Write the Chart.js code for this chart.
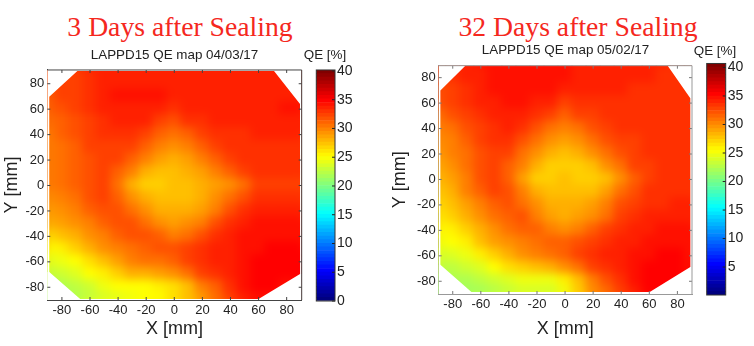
<!DOCTYPE html>
<html><head><meta charset="utf-8">
<script src="https://cdn.jsdelivr.net/npm/chart.js@4"></script>
<style>
html,body{margin:0;padding:0;background:#fff;width:754px;height:346px;overflow:hidden}
canvas{position:absolute;display:block}
.head{position:absolute;font:27.7px "Liberation Serif",serif;color:#f5281e;white-space:nowrap;transform:translate(-50%,-50%)}
</style></head><body>
<div class="head" style="left:180px;top:27px">3 Days after Sealing</div>
<div class="head" style="left:578px;top:27px">32 Days after Sealing</div>
<canvas id="h1" width="349" height="346" style="left:0;top:0"></canvas>
<canvas id="h2" width="377" height="346" style="left:377px;top:0"></canvas>
<canvas id="c1" width="60" height="346" style="left:295px;top:0"></canvas>
<canvas id="c2" width="60" height="346" style="left:685px;top:0"></canvas>
<script>
const xCells=[-90,-80,-70,-60,-50,-40,-30,-20,-10,0,10,20,30,40,50,60,70,80,90];
const yCells=[90,80,70,60,50,40,30,20,10,0,-10,-20,-30,-40,-50,-60,-70,-80,-90];
const axisTicks=[-80,-60,-40,-20,0,20,40,60,80];
const titleLeft='LAPPD15 QE map 04/03/17';
const titleRight='LAPPD15 QE map 05/02/17';
const colorbarTicksLeft=[0,5,10,15,20,25,30,35,40];
const colorbarTicksRight=[5,10,15,20,25,30,35,40];
const qeLeft=[
[32,32.5,33,33.6,34,34.1,34.1,34.1,34.1,34.1,34.1,34.1,34.1,34.1,34.1,34.1,34.1,34.1,34.1],
[32,32.5,33,33.6,34,34.2,34.3,34.3,34.3,34.3,34.2,34.1,34.1,34.1,34.1,34.1,34.2,34.2,34.2],
[31.8,32.5,33,33.6,34.1,34.4,34.5,34.5,34.5,34.3,34.1,34,34,34,34,34.1,34.2,34.3,34.3],
[31.5,32,32.6,33.2,33.8,34.1,34.2,34.1,34,33.6,33.9,34,34,34,34,34.1,34.2,34.4,34.5],
[31,31.6,32.3,33,33.6,33.9,33.9,33.8,33.1,32.3,33.2,33.7,33.8,33.8,33.8,33.9,34,34.2,34.2],
[30.6,31.3,32,32.8,33.3,33.5,33.4,32.7,31.7,30.8,31.8,32.8,33.4,33.6,33.7,33.8,33.8,33.8,33.8],
[30.5,31.1,31.8,32.5,33.1,33.1,32.5,31.5,30.2,29.6,30.4,31.4,32.6,33.3,33.5,33.5,33.5,33.5,33.4],
[30.4,31,31.6,32.3,32.9,32.5,31.5,30,29,28.5,29.2,30.2,31.3,32.5,33.2,33.4,33.4,33.4,33.3],
[30.4,31,31.6,32.2,32.6,31.6,30,28.5,27.8,27.9,28.3,28.9,30,31.3,32.5,33.2,33.4,33.4,33.3],
[30.5,31,31.6,32.1,32.6,30.8,28.5,27.2,27,27.9,28.1,28.3,28.8,29.8,31.2,32.6,33,33,33],
[29.9,30.5,31.2,31.9,32.5,31.5,29.6,28.2,27.8,27.9,28.1,28.5,29.5,31,32.4,33.2,33.4,33.4,33.4],
[29.2,29.8,30.5,31.3,32.1,32.2,31,29.5,28.6,28.3,28.5,29.3,30.6,32.2,33.4,33.9,34,34,34],
[28.2,29,29.8,30.6,31.5,32,32.2,31,29.9,29.2,29.5,30.6,32.2,33.4,34,34.4,34.4,34.4,34.4],
[26.8,27.7,28.6,29.6,30.6,31.4,32,32.2,31.3,30.3,31,32.3,33.3,34,34.4,34.7,34.9,34.9,34.8],
[25.3,26,27,28.2,29.4,30.3,31,31.7,32.2,32.3,33,33.5,33.9,34.2,34.5,34.9,35,35,35],
[24,24.5,25.5,26.6,27.8,29,30,30.8,31.2,31.8,32.8,33.5,33.9,34.3,34.7,35,35.1,35.1,35],
[23,23.4,24.2,25.2,26.2,27.3,28.2,28.6,28.8,29.8,31.2,32.5,33.3,33.9,34.6,35.1,35.1,35.1,35],
[22,22.4,23,23.6,24.5,25.2,25.4,25.5,25.7,26.5,28,30,31.6,33.2,34.6,35.1,35,34.9,34.9],
[21.8,22,22,22.5,23.5,24.2,24.8,25,25.3,26.5,27.5,29,30.8,32.6,34,34.8,34.9,34.9,34.9]];
const qeRight=[
[32.8,33.3,33.8,34.3,34.6,34.6,34.6,34.6,34.5,34.4,34.3,34.2,34.1,34,33.9,33.8,33.7,33.7,33.7],
[32.6,33.2,33.8,34.3,34.6,34.7,34.7,34.6,34.5,34.4,34.3,34.2,34.1,34,33.9,33.8,33.7,33.7,33.7],
[32.4,33,33.6,34.2,34.5,34.6,34.6,34.5,34.4,34.2,34.1,34,33.9,33.8,33.7,33.7,33.6,33.6,33.6],
[32,32.7,33.3,33.9,34.3,34.4,34.4,34.2,33.8,33,33.6,33.7,33.7,33.7,33.6,33.6,33.5,33.5,33.5],
[31,31.9,32.7,33.4,33.9,34.1,34,33.4,32.5,31.5,32.5,33.1,33.4,33.5,33.5,33.5,33.5,33.5,33.5],
[30,31,32,32.9,33.5,33.8,33.2,32.3,31.2,30.2,31.2,32.2,32.9,33.2,33.3,33.4,33.4,33.4,33.4],
[29.5,30.6,31.6,32.6,33.2,33.2,32.3,31,29.8,29.1,29.8,31,32.1,32.8,33.1,33.3,33.3,33.3,33.3],
[29,30,31,32.2,33,32.5,31,29.6,28.4,27.8,28.5,29.6,31,32.2,32.8,33.2,33.3,33.3,33.3],
[28.5,29.6,30.8,32,33,31.8,30,28.3,27.4,27.4,27.3,27.8,29.4,31.2,32.5,33.1,33.3,33.3,33.3],
[28,29.3,30.6,32,33,31.4,29,27.1,27,27.7,27.4,27.2,28,29.8,31.5,32.8,33.2,33.3,33.3],
[27.3,28.6,30,31.4,32.6,32,30,28.3,27.7,27.8,27.8,28,29,30.8,32.3,33.2,33.4,33.5,33.5],
[26.5,27.9,29.3,30.6,31.8,32.3,31.2,29.4,28.4,28.2,28.3,28.8,30.1,31.9,33,33.5,33.7,33.8,33.8],
[25.8,27.1,28.4,29.6,30.8,31.6,32,30.5,29.3,28.7,28.9,29.8,31.2,32.7,33.5,33.9,34,34,34],
[25.2,26.1,27.4,28.7,29.8,30.8,31.6,31.7,30.6,29.7,30.2,31.4,32.7,33.5,34,34.3,34.4,34.4,34.4],
[24.4,25.1,26.2,27.5,28.8,29.8,30.6,31.2,31.6,31.3,32.2,33,33.6,34,34.3,34.7,34.9,34.9,34.8],
[23.3,23.9,24.8,25.9,27.3,28.6,29.5,30.2,30.9,31.6,32.6,33.3,33.8,34.2,34.6,34.9,35.1,35,34.9],
[22.5,22.9,23.5,24.3,25.4,26.3,27.2,27.8,28.4,29.6,31.2,32.5,33.3,34,34.6,35,35.1,35,34.9],
[21.8,22,22.4,23,23.7,24.3,24.6,24.8,24.8,25.8,28,30.2,32,33.5,34.5,35.1,35.1,35,35],
[21.4,21.5,21.6,21.8,22.4,23,23.4,23.6,23.7,24.8,27,29.4,31.2,33,34.3,35,35.1,35,35]];
const topEdgeXLeft=[-92,-89.05,-89,-69,71,89.5,89.55,92];
const topEdgeYLeft=[-92,-92,69.8,90,90,64,-92,-92];
const bottomEdgeXLeft=[-92,-89,-67,60,89.5,92];
const bottomEdgeYLeft=[-68,-68,-89.2,-89.2,-69.5,-69.5];
const topEdgeXRight=[-92,-88.85,-88.8,-68.6,71.4,89.2,89.25,92];
const topEdgeYRight=[-92,-92,69.8,92,92,63.8,-92,-92];
const bottomEdgeXRight=[-92,-88.8,-66.7,60.3,89.2,92];
const bottomEdgeYRight=[-67,-67,-88.5,-88.5,-68.8,-68.8];

const INK='#222';
const SANS='"Liberation Sans",Arial,sans-serif';
function jet(t){
  const c=v=>Math.round(255*Math.max(0,Math.min(1,v)));
  return `rgb(${c(Math.min(4*t-1.5,-4*t+4.5))},${c(Math.min(4*t-0.5,-4*t+3.5))},${c(Math.min(4*t+0.5,-4*t+2.5))})`;
}
const qeColor=v=>jet(Math.floor(v/40*64)/63.999);

function pts(xs,ys){return xs.map((x,i)=>({x,y:ys[i]}));}
function heatPoints(grid){
  const out=[];
  yCells.forEach((y,r)=>xCells.forEach((x,c)=>out.push({x,y,v:grid[r][c]})));
  return out;
}
const softenCells={id:'softenCells',afterDatasetDraw(chart,args){
  if(chart.data.datasets[args.index].heat!==true)return;
  const a=chart.chartArea,p=18,w=Math.round(a.right-a.left),h=Math.round(a.bottom-a.top);
  const t=document.createElement('canvas');t.width=w+2*p;t.height=h+2*p;
  const x=t.getContext('2d');
  x.drawImage(chart.canvas,a.left,a.top,a.right-a.left,a.bottom-a.top,0,0,w+2*p,h+2*p);
  x.drawImage(chart.canvas,a.left,a.top,a.right-a.left,a.bottom-a.top,p,p,w,h);
  const g=chart.ctx;g.save();g.beginPath();g.rect(a.left,a.top,a.right-a.left,a.bottom-a.top);g.clip();
  g.filter='blur(4px)';g.drawImage(t,a.left-p,a.top-p,w+2*p,h+2*p);g.restore();
}};
const inwardTicks={id:'inwardTicks',afterDraw(chart,args,o){
  const g=chart.ctx,a=chart.chartArea;g.save();g.strokeStyle=o.color;g.lineWidth=1;g.beginPath();
  if(chart.scales.x&&chart.scales.x.options.display!==false){
    chart.scales.x.ticks.forEach(t=>{const q=chart.scales.x.getPixelForValue(t.value);
      g.moveTo(q,a.top);g.lineTo(q,a.top+3);g.moveTo(q,a.bottom);g.lineTo(q,a.bottom-3);});
  }
  chart.scales.y.ticks.forEach(t=>{const q=chart.scales.y.getPixelForValue(t.value);
    if(o.both){g.moveTo(a.left,q);g.lineTo(a.left+3,q);}
    g.moveTo(a.right,q);g.lineTo(a.right-3,q);});
  g.stroke();
  if(o.frame){g.strokeStyle=o.frame;g.strokeRect(a.left,a.top,a.right-a.left,a.bottom-a.top);}
  if(o.box){g.strokeStyle=o.box;g.beginPath();g.moveTo(a.left,a.top);g.lineTo(a.right,a.top);g.lineTo(a.right,a.bottom);g.stroke();}
  g.restore();
}};
const spacer=(position,width)=>({position,display:true,min:0,max:1,ticks:{display:false},grid:{display:false},border:{display:false},afterFit:s=>{s.width=width;}});
function heatmap(id,grid,title,g){
  new Chart(document.getElementById(id),{
    type:'scatter',
    data:{datasets:[
      {type:'line',data:pts(g.topX,g.topY),fill:{target:{value:92}},backgroundColor:'#fff',borderWidth:0,pointRadius:0,order:1},
      {type:'line',data:pts(g.botX,g.botY),fill:{target:{value:-92}},backgroundColor:'#fff',borderWidth:0,pointRadius:0,order:1},
      {type:'scatter',heat:true,data:heatPoints(grid),pointStyle:'rect',pointRadius:11,pointBorderWidth:0,
       pointBackgroundColor:c=>qeColor(c.raw.v),order:2}
    ]},
    options:{responsive:false,animation:false,events:[],
      plugins:{legend:{display:false},tooltip:{enabled:false},
        title:{display:true,text:title,color:INK,font:{family:SANS,size:13.4,weight:'normal',lineHeight:1.2},padding:{top:g.titleTop,bottom:g.titleBottom}},
        inwardTicks:{color:g.tick,both:true,box:g.border}},
      scales:{
        x:{type:'linear',min:g.xMin,max:g.xMax,
          afterBuildTicks:s=>{s.ticks=axisTicks.map(value=>({value}));},
          afterFit:s=>{s.height=g.bottomH;},
          grid:{drawOnChartArea:false,drawTicks:false},border:{color:g.border,width:1},
          ticks:{padding:3,color:INK,maxRotation:0,autoSkip:false,font:{family:SANS,size:13}},
          title:{display:true,text:'X [mm]',color:INK,font:{family:SANS,size:18},padding:{top:0,bottom:g.xTitlePad}}},
        y:{type:'linear',min:g.yMin,max:g.yMax,
          afterBuildTicks:s=>{s.ticks=axisTicks.map(value=>({value}));},
          afterFit:s=>{s.width=g.leftW;},
          grid:{drawOnChartArea:false,drawTicks:false},border:{color:g.border,width:1},
          ticks:{padding:3,color:INK,autoSkip:false,font:{family:SANS,size:13}},
          title:{display:true,text:'Y [mm]',color:INK,font:{family:SANS,size:18},padding:{top:g.yTitlePad,bottom:g.yTitlePad}}},
        gap:spacer('right',g.rightW)
      }},
    plugins:[softenCells,inwardTicks]
  });
}
function colorbar(id,ticksList,g){
  const n=64,step=(g.max-g.min)/n,ds=[];
  for(let i=0;i<n;i++)ds.push({data:[[g.min+i*step,g.min+(i+1)*step]],backgroundColor:jet(i/63),borderWidth:0,barPercentage:1,categoryPercentage:1,grouped:false});
  new Chart(document.getElementById(id),{
    type:'bar',data:{labels:['QE'],datasets:ds},
    options:{responsive:false,animation:false,events:[],
      layout:{padding:{bottom:g.padBottom}},
      plugins:{legend:{display:false},tooltip:{enabled:false},
        title:{display:true,text:'QE [%]',color:INK,font:{family:SANS,size:13.4,weight:'normal',lineHeight:1.2},padding:{top:g.titleTop,bottom:g.titleBottom}},
        inwardTicks:{color:'#222',both:false,frame:'#333'}},
      scales:{
        x:{display:false},
        y:{type:'linear',position:'right',min:g.min,max:g.max,
          afterBuildTicks:s=>{s.ticks=ticksList.map(value=>({value}));},
          afterFit:s=>{s.width=g.rightW;},
          grid:{drawOnChartArea:false,drawTicks:false},border:{display:false},
          ticks:{padding:2,color:INK,autoSkip:false,font:{family:SANS,size:14}}},
        gap:spacer('left',g.leftW)
      }},
    plugins:[inwardTicks]
  });
}
heatmap('h1',qeLeft,titleLeft,{rightW:47.3,leftW:47.3,bottomH:46,titleTop:47.6,titleBottom:6.3,xMin:-90.4,xMax:90.7,yMin:-90,yMax:90.8,
  topX:topEdgeXLeft,topY:topEdgeYLeft,botX:bottomEdgeXLeft,botY:bottomEdgeYLeft,border:'#444',tick:'#444',xTitlePad:6.2,yTitlePad:1.2});
heatmap('h2',qeRight,titleRight,{rightW:62,leftW:61.7,bottomH:52,titleTop:41.9,titleBottom:7.7,xMin:-90,xMax:90.4,yMin:-90,yMax:89.4,
  topX:topEdgeXRight,topY:topEdgeYRight,botX:bottomEdgeXRight,botY:bottomEdgeYRight,border:'#999',tick:'#777',xTitlePad:6.2,yTitlePad:12.2});
colorbar('c1',colorbarTicksLeft,{min:0,max:40.17,leftW:21.3,padBottom:45,rightW:20,titleTop:47.6,titleBottom:6.3});
colorbar('c2',colorbarTicksRight,{min:0.1,max:40.7,leftW:21.7,padBottom:51,rightW:19.3,titleTop:42.9,titleBottom:4.5});
</script>
</body></html>
